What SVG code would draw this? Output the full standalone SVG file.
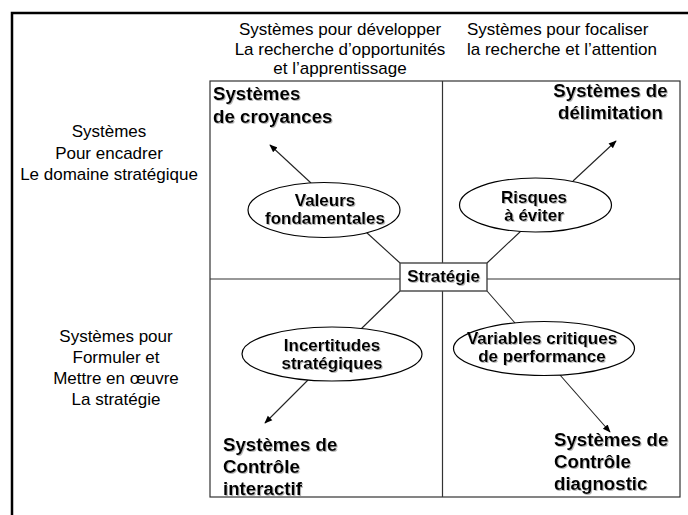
<svg xmlns="http://www.w3.org/2000/svg" width="688" height="515" viewBox="0 0 688 515">
<style>
  .hdr { font-family: "Liberation Sans", Arial, sans-serif; font-size: 17px; fill: #000; }
  .big { font-family: "Liberation Sans", Arial, sans-serif; font-size: 18.7px; font-weight: bold; fill: #000; filter: url(#sh); }
  .lbl { font-family: "Liberation Sans", Arial, sans-serif; font-size: 17px; font-weight: bold; fill: #000; filter: url(#sh); }
  .grid { stroke: #333; stroke-width: 1.2; fill: none; }
  .ell { fill: #fff; stroke: #000; stroke-width: 1.2; }
  .con { stroke: #222; stroke-width: 1.1; fill: none; }
  .arr { stroke: #222; stroke-width: 1.1; fill: none; marker-end: url(#ah); }
</style>
<defs>
  <marker id="ah" viewBox="0 0 10 10" refX="9" refY="5" markerWidth="8" markerHeight="8" markerUnits="userSpaceOnUse" orient="auto">
    <path d="M0,1 L10,5 L0,9 Z" fill="#000"/>
  </marker>
  <filter id="sh" x="-5%" y="-20%" width="115%" height="150%">
    <feDropShadow dx="1" dy="1" stdDeviation="0.4" flood-color="#888" flood-opacity="0.6"/>
  </filter>
</defs>
<rect x="0" y="0" width="688" height="515" fill="#fff"/>
<path d="M12,515 V13 H688" fill="none" stroke="#000" stroke-width="2.5"/>

<g id="headers">
  <text class="hdr" x="340" y="35" text-anchor="middle">Systèmes pour développer</text>
  <text class="hdr" x="340" y="54.5" text-anchor="middle">La recherche d’opportunités</text>
  <text class="hdr" x="340" y="74" text-anchor="middle">et l’apprentissage</text>
  <text class="hdr" x="467" y="35">Systèmes pour focaliser</text>
  <text class="hdr" x="467" y="54.5">la recherche et l’attention</text>
  <text class="hdr" x="109" y="137" text-anchor="middle">Systèmes</text>
  <text class="hdr" x="109" y="158.5" text-anchor="middle">Pour encadrer</text>
  <text class="hdr" x="109" y="180" text-anchor="middle">Le domaine stratégique</text>
  <text class="hdr" x="116" y="342" text-anchor="middle">Systèmes pour</text>
  <text class="hdr" x="116" y="363" text-anchor="middle">Formuler et</text>
  <text class="hdr" x="116" y="384" text-anchor="middle">Mettre en œuvre</text>
  <text class="hdr" x="116" y="405" text-anchor="middle">La stratégie</text>
</g>

<g id="grid">
  <rect class="grid" x="210" y="81" width="470" height="416"/>
  <line class="grid" x1="442.5" y1="81" x2="442.5" y2="497"/>
  <line class="grid" x1="210" y1="279" x2="680" y2="279"/>
</g>

<g id="connectors">
  <line class="con" x1="400" y1="263" x2="366" y2="232"/>
  <line class="arr" x1="311" y1="183" x2="270" y2="145"/>
  <line class="con" x1="487" y1="263" x2="521" y2="231"/>
  <line class="arr" x1="573" y1="181" x2="616" y2="141"/>
  <line class="con" x1="400" y1="291" x2="361" y2="329"/>
  <line class="arr" x1="308" y1="380" x2="265" y2="423"/>
  <line class="con" x1="487" y1="291" x2="515" y2="323"/>
  <line class="arr" x1="560" y1="375" x2="610" y2="432"/>
</g>

<g id="strategie">
  <rect x="400" y="263" width="87" height="28" fill="#fff" stroke="#444" stroke-width="1.4"/>
  <text class="lbl" x="443.5" y="282" text-anchor="middle">Stratégie</text>
</g>

<g id="valeurs">
  <ellipse class="ell" cx="324" cy="210" rx="76" ry="27.5"/>
  <text class="lbl" x="325" y="206" text-anchor="middle">Valeurs</text>
  <text class="lbl" x="325" y="224" text-anchor="middle">fondamentales</text>
</g>

<g id="risques">
  <ellipse class="ell" cx="535.5" cy="205" rx="76" ry="27"/>
  <text class="lbl" x="534" y="202.5" text-anchor="middle">Risques</text>
  <text class="lbl" x="534" y="220.5" text-anchor="middle">à éviter</text>
</g>

<g id="incertitudes">
  <ellipse class="ell" cx="332" cy="354" rx="90" ry="27"/>
  <text class="lbl" x="332" y="350.5" text-anchor="middle">Incertitudes</text>
  <text class="lbl" x="332" y="368.5" text-anchor="middle">stratégiques</text>
</g>

<g id="variables">
  <ellipse class="ell" cx="544" cy="348.5" rx="90.5" ry="27"/>
  <text class="lbl" x="542" y="344" text-anchor="middle">Variables critiques</text>
  <text class="lbl" x="542" y="362" text-anchor="middle">de performance</text>
</g>

<g id="croyances">
  <text class="big" x="213" y="100">Systèmes</text>
  <text class="big" x="213" y="122.5">de croyances</text>
</g>

<g id="delimitation">
  <text class="big" x="610.5" y="96.5" text-anchor="middle">Systèmes de</text>
  <text class="big" x="610.5" y="119" text-anchor="middle">délimitation</text>
</g>

<g id="interactif">
  <text class="big" x="223" y="450.5">Systèmes de</text>
  <text class="big" x="223" y="472.5">Contrôle</text>
  <text class="big" x="223" y="494.5">interactif</text>
</g>

<g id="diagnostic">
  <text class="big" x="554" y="445.5">Systèmes de</text>
  <text class="big" x="554" y="467.5">Contrôle</text>
  <text class="big" x="554" y="489.5">diagnostic</text>
</g>
</svg>
